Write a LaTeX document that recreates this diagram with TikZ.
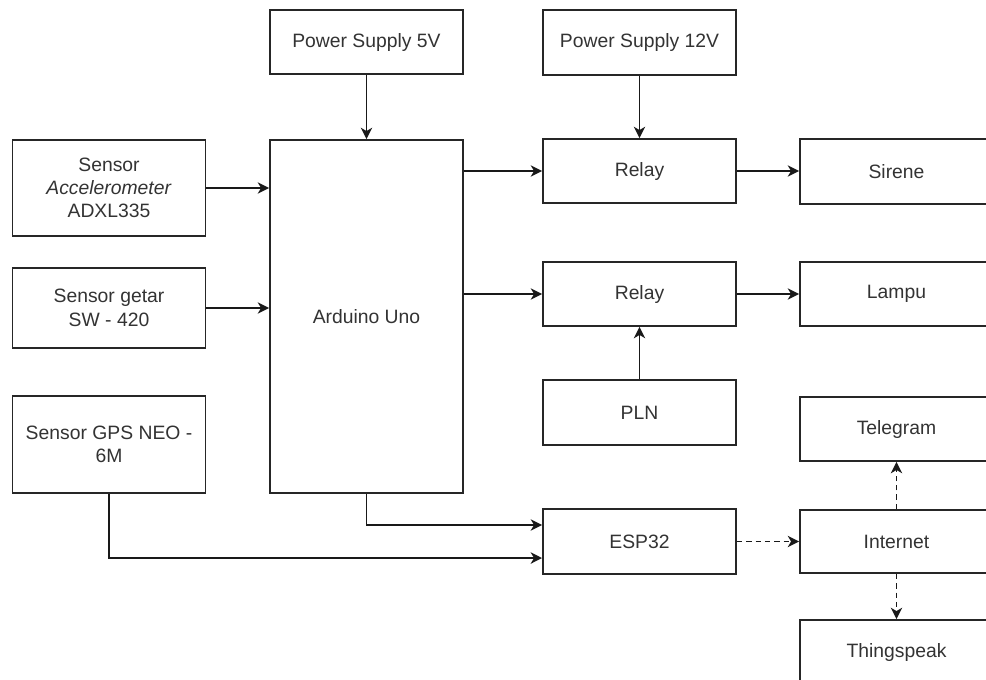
\documentclass[tikz,border=0pt]{standalone}
\usepackage{fontspec}
\setmainfont{Liberation Sans}
\usetikzlibrary{arrows.meta}
\begin{document}
\begin{tikzpicture}[x=0.75pt,y=-0.75pt,
 blk/.style={draw=black!85,line width=1.4pt,fill=white,inner sep=0pt,align=center,text=black!80,
   font=\fontsize{14.5}{17.5}\selectfont,minimum width=144.75pt,minimum height=48pt},
 conn/.style={draw=black!90,line width=1.4pt,-{Stealth[length=8.5pt,width=8.5pt,inset=2.5pt]}},
 dconn/.style={conn,dash pattern=on 4pt off 3pt}]
\useasboundingbox (0,0) rectangle (986,679);
\clip (0,0) rectangle (986,679);
\node[blk] (ps5) at (366.5,42) {Power Supply 5V};
\node[blk,minimum height=48.75pt] (ps12) at (639.5,42.5) {Power Supply 12V};
\node[blk,minimum height=72pt] (acc) at (109,188) {Sensor\\\textit{Accelerometer}\\ADXL335};
\node[blk,minimum height=60pt] (getar) at (109,308) {Sensor getar\\SW - 420};
\node[blk,minimum height=72.75pt] (gps) at (109,444.5) {Sensor GPS NEO -\\6M};
\node[blk,minimum height=264.75pt] (ard) at (366.5,316.5) {Arduino Uno};
\node[blk] (r1) at (639.5,171) {Relay};
\node[blk] (r2) at (639.5,294) {Relay};
\node[blk,minimum height=48.75pt] (pln) at (639.5,412.5) {PLN};
\node[blk,minimum height=48.75pt] (esp) at (639.5,541.5) {ESP32};
\node[blk,minimum height=48.75pt] (sirene) at (896.5,171.5) {Sirene};
\node[blk] (lampu) at (896.5,294) {Lampu};
\node[blk] (tele) at (896.5,429) {Telegram};
\node[blk,minimum height=47.25pt] (inet) at (896.5,541.5) {Internet};
\node[blk] (thing) at (896.5,652) {Thingspeak};

\draw[conn] (ps5.south) -- (ard.north);
\draw[conn] (ps12.south) -- (r1.north);
\draw[conn] (acc.east) -- (acc.east -| ard.west);
\draw[conn] (getar.east) -- (getar.east -| ard.west);
\draw[conn] (ard.east |- r1.west) -- (r1.west);
\draw[conn] (ard.east |- r2.west) -- (r2.west);
\draw[conn] (r1.east) -- (r1.east -| sirene.west);
\draw[conn] (r2.east) -- (lampu.west);
\draw[conn] (pln.north) -- (r2.south);
\draw[conn] (ard.south) |- ([yshift=12.4pt]esp.west);
\draw[conn] (gps.south) |- ([yshift=-12.4pt]esp.west);
\draw[dconn] (esp.east) -- (inet.west);
\draw[dconn] (inet.north) -- (tele.south);
\draw[dconn] (inet.south) -- (thing.north);
\end{tikzpicture}
\end{document}
